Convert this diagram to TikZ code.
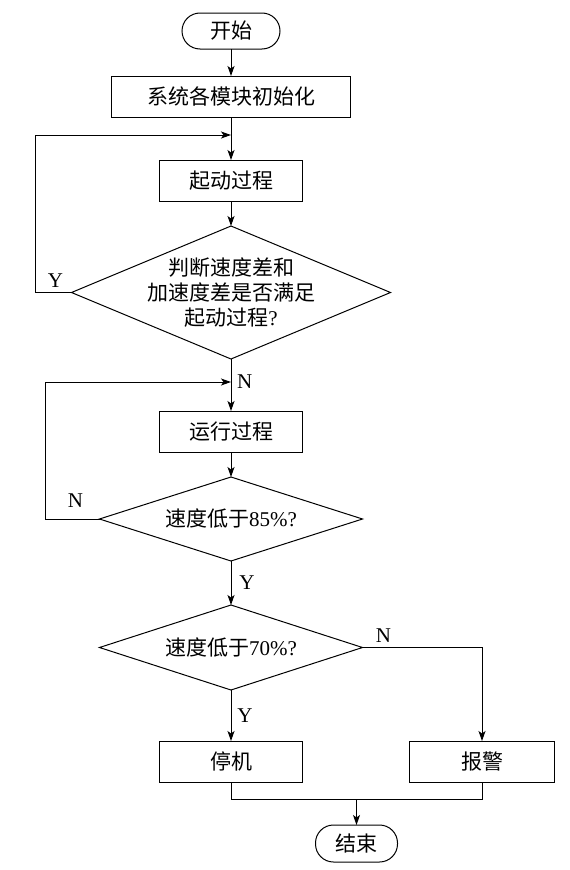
\documentclass[tikz,border=0pt]{standalone}
\usepackage{fontspec}
\setmainfont{Liberation Serif}
\newfontfamily\cjk{Noto Sans CJK SC}
\usetikzlibrary{positioning,arrows.meta,shapes.geometric,calc}
\newcommand{\cnfont}{\cjk\fontsize{21}{25}\selectfont}
\tikzset{
  term/.style ={rectangle, rounded corners=18pt, draw, line width=1pt, outer sep=0pt,
                minimum height=36pt, inner sep=0pt, font=\cnfont},
  proc/.style ={rectangle, draw, line width=1pt, outer sep=0pt, minimum width=143pt,
                minimum height=41pt, inner sep=0pt, font=\cnfont},
  dec/.style  ={diamond, draw, line width=1pt, outer sep=0pt, aspect=2.4, inner sep=-12pt,
                align=center, font=\cnfont},
  flow/.style ={-{Stealth[length=10pt,width=7pt,inset=2.5pt]}, line width=1pt},
  lbl/.style  ={font=\fontsize{21}{24}\selectfont, inner sep=0pt},
}

\begin{document}
\begin{tikzpicture}
\useasboundingbox (0,0) rectangle (570pt,-870pt);
\node[term, minimum width=98pt] (start) at (231pt,-31pt) {开始};
\node[proc, minimum width=239pt, below=27pt of start] (init) {系统各模块初始化};
\node[proc, below=43pt of init] (boot) {起动过程};
\node[dec, minimum width=319pt, minimum height=133pt, below=25pt of boot] (chk1) {判断速度差和\\加速度差是否满足\\起动过程{\rmfamily ?}};
\node[proc, below=52pt of chk1] (run) {运行过程};
\node[dec, minimum width=263pt, minimum height=84pt, below=25pt of run] (chk2) {速度低于{\rmfamily 85\%?}};
\node[dec, minimum width=263pt, minimum height=85pt, below=44pt of chk2] (chk3) {速度低于{\rmfamily 70\%?}};
\node[proc, below=51pt of chk3] (stop) {停机};
\node[proc, minimum width=145pt, right=107pt of stop] (alarm) {报警};
\coordinate (mrg) at ($(stop.south)!0.5!(alarm.south)+(0,-17pt)$);
\node[term, minimum width=82pt, minimum height=37pt, below=26pt of mrg] (end) {结束};
\coordinate (j1) at ($(boot.north)+(0,25pt)$);
\coordinate (j2) at ($(run.north)+(0,29pt)$);
\foreach \a/\b in {start/init, init/boot, boot/chk1, chk1/run, run/chk2, chk2/chk3, chk3/stop}
  \draw[flow] (\a) -- (\b);
\draw[flow] (chk1.west) -- ++(-36pt,0) |- (j1);
\draw[flow] (chk2.west) -- ++(-54pt,0) |- (j2);
\draw[flow] (chk3.east) -| (alarm.north);
\draw[line width=1pt] (stop.south) |- (mrg) -| (alarm.south);
\draw[flow] (mrg) -- (end);
% branch labels
\node[lbl] (y1) at ($(chk1.west)+(-16pt,12pt)$) {Y};
\node[lbl, anchor=west] (n1) at ($(j2)+(6pt,0)$) {N};
\node[lbl] (n2) at ($(chk2.west)+(-24pt,18pt)$) {N};
\node[lbl] (y2) at ($(chk2.south)!0.5!(chk3.north)+(16pt,0)$) {Y};
\node[lbl] (n3) at ($(chk3.east)+(21pt,12pt)$) {N};
\node[lbl] (y3) at ($(chk3.south)!0.5!(stop.north)+(14pt,0)$) {Y};
\end{tikzpicture}
\end{document}
